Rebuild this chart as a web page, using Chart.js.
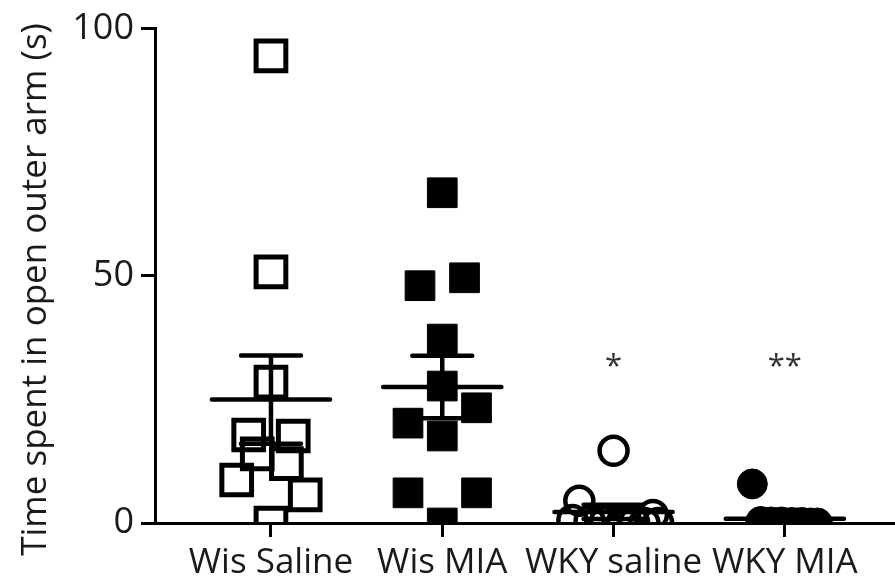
<!DOCTYPE html>
<html>
<head>
<meta charset="utf-8">
<script src="https://cdn.jsdelivr.net/npm/chart.js@4/dist/chart.umd.min.js"></script>
<style>
  html, body { margin: 0; padding: 0; background: #fff; }
  #wrap { width: 895px; height: 587px; }
</style>
</head>
<body>
<div id="wrap"><canvas id="chart"></canvas></div>
<script>
// Groups on the x axis
const categories = ['Wis Saline', 'Wis MIA', 'WKY saline', 'WKY MIA'];

// Time spent in the open outer arm (s), one value per animal
const wisSalineValues = [94.5, 50.8, 28.5, 17.8, 17.6, 14.0, 12.0, 8.7, 5.7, 0.0];
const wisMiaValues    = [66.8, 48.0, 49.6, 37.2, 27.7, 23.3, 20.2, 17.6, 6.1, 6.1, 0.0];
const wkySalineValues = [14.6, 4.5, 1.6, 0.6, 0.4, 0.3, 0.2, 0.1, 0.0, 0.0];
const wkyMiaValues    = [7.9, 0.3, 0.2, 0.2, 0.1, 0.1, 0.0, 0.0, 0.0, 0.0];

// Horizontal scatter of each animal around its group (in group units)
const wisSalineSpread = [0, 0, 0, -0.13, 0.13, -0.08, 0.09, -0.2, 0.2, 0];
const wisMiaSpread    = [0, -0.13, 0.13, 0, 0, 0.2, -0.2, 0, -0.2, 0.2, 0];
const wkySalineSpread = [0, -0.2, 0.23, -0.24, -0.14, -0.05, 0.05, 0.12, 0.18, 0.26];
const wkyMiaSpread    = [-0.19, -0.14, -0.08, -0.02, 0.04, 0.1, 0.15, 0.19, -0.11, 0.07];

// Significance marks above each group
const significance = ['', '', '*', '**'];
const significanceLevel = 31.5;

// y axis ticks
const yTicks = [0, 50, 100];

const groups = [
  { values: wisSalineValues, spread: wisSalineSpread, style: 'rect',   fill: 'rgba(0,0,0,0)', radius: 21, border: 5 },
  { values: wisMiaValues,    spread: wisMiaSpread,    style: 'rect',   fill: '#000',          radius: 21, border: 1 },
  { values: wkySalineValues, spread: wkySalineSpread, style: 'circle', fill: 'rgba(0,0,0,0)', radius: 14, border: 4.5 },
  { values: wkyMiaValues,    spread: wkyMiaSpread,    style: 'circle', fill: '#000',          radius: 15, border: 1 }
];

function mean(a) { return a.reduce((s, v) => s + v, 0) / a.length; }
function sem(a) {
  const m = mean(a);
  const sd = Math.sqrt(a.reduce((s, v) => s + (v - m) * (v - m), 0) / (a.length - 1));
  return sd / Math.sqrt(a.length);
}

const MEAN_HALF = 0.345;
const CAP_HALF = 0.175;

// Mean line plus SEM whiskers, drawn as broken line segments
const summaryDatasets = groups.map((g, i) => {
  const c = i + 1, m = mean(g.values), s = sem(g.values);
  return {
    type: 'scatter',
    showLine: true,
    spanGaps: false,
    order: 0,
    borderColor: '#000',
    borderWidth: 4.5,
    borderCapStyle: 'round',
    pointRadius: 0,
    data: [
      { x: c - MEAN_HALF, y: m }, { x: c + MEAN_HALF, y: m }, { x: c, y: null },
      { x: c - CAP_HALF, y: m + s }, { x: c + CAP_HALF, y: m + s }, { x: c, y: null },
      { x: c - CAP_HALF, y: m - s }, { x: c + CAP_HALF, y: m - s }, { x: c, y: null },
      { x: c, y: m - s }, { x: c, y: m + s }
    ]
  };
});

const pointDatasets = groups.map((g, i) => ({
  type: 'scatter',
  order: 1,
  label: categories[i],
  data: g.values.map((v, k) => ({ x: i + 1 + g.spread[k], y: v })),
  pointStyle: g.style,
  pointRadius: g.radius,
  pointBorderWidth: g.border,
  pointBorderColor: '#000',
  pointBackgroundColor: g.fill,
  clip: { left: false, top: false, right: false, bottom: 0 }
}));

// Writes the significance stars above each group
const starsPlugin = {
  id: 'stars',
  afterDatasetsDraw(chart) {
    const { ctx, scales: { x, y } } = chart;
    ctx.save();
    ctx.fillStyle = '#333';
    ctx.font = '31px "Open Sans"';
    ctx.textAlign = 'center';
    ctx.textBaseline = 'middle';
    significance.forEach((mark, i) => {
      if (mark) ctx.fillText(mark, x.getPixelForValue(i + 1), y.getPixelForValue(significanceLevel));
    });
    ctx.restore();
  }
};

new Chart(document.getElementById('chart'), {
  type: 'scatter',
  data: { datasets: [...summaryDatasets, ...pointDatasets] },
  plugins: [starsPlugin],
  options: {
    responsive: true,
    maintainAspectRatio: false,
    animation: false,
    events: [],
    layout: { autoPadding: false, padding: { top: 28, right: 0, bottom: 0, left: 0 } },
    plugins: { legend: { display: false }, tooltip: { enabled: false } },
    scales: {
      x: {
        type: 'linear',
        min: 0.323,
        max: 4.643,
        afterBuildTicks(scale) { scale.ticks = categories.map((_, i) => ({ value: i + 1 })); },
        afterFit(scale) {
          scale.height = 64;
          scale.paddingLeft = 0;
          scale.paddingRight = 0;
        },
        ticks: {
          callback: (v) => categories[Math.round(v) - 1],
          autoSkip: false,
          maxRotation: 0,
          padding: 5,
          color: '#1a1a1a',
          font: { family: '"Open Sans"', size: 35 }
        },
        grid: { drawOnChartArea: false, drawTicks: true, tickLength: 14, color: '#000', lineWidth: 3 },
        border: { display: true, color: '#000', width: 3 }
      },
      y: {
        min: 0,
        max: 100,
        afterBuildTicks(scale) { scale.ticks = yTicks.map(v => ({ value: v })); },
        afterFit(scale) { scale.width = 155; },
        ticks: {
          padding: 7,
          color: '#1a1a1a',
          font: { family: '"Open Sans"', size: 36 }
        },
        grid: { drawOnChartArea: false, drawTicks: true, tickLength: 14, color: '#000', lineWidth: 3 },
        border: { display: true, color: '#000', width: 3 },
        title: {
          display: true,
          text: 'Time spent in open outer arm (s)   ',
          color: '#1a1a1a',
          font: { family: '"Open Sans"', size: 35 },
          padding: { top: 15, bottom: 0 }
        }
      }
    }
  }
});
</script>
</body>
</html>
